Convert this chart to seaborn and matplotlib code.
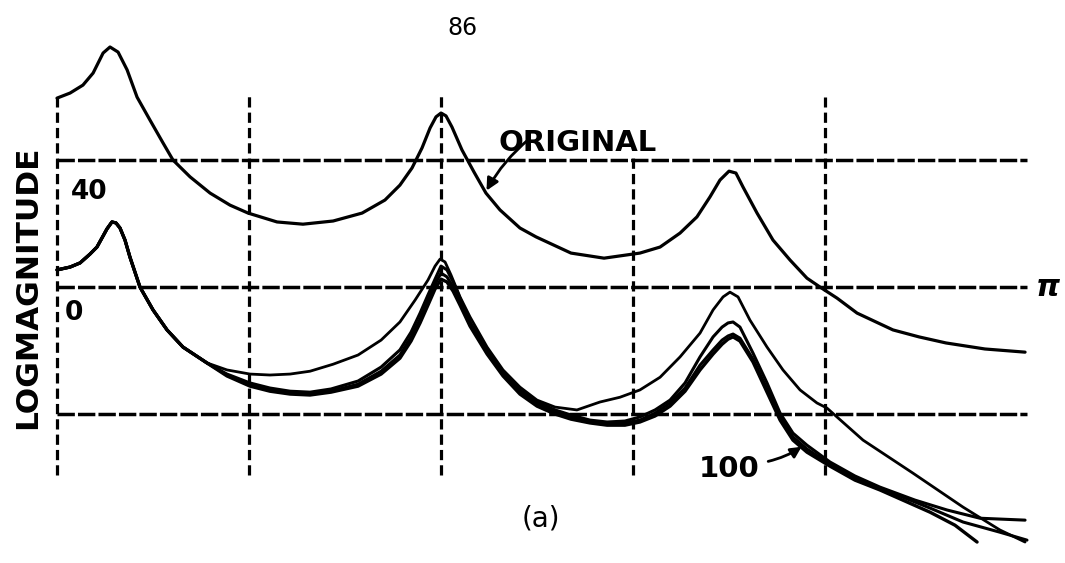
import numpy as np
import pandas as pd
import matplotlib
matplotlib.use("Agg")
import matplotlib.pyplot as plt
import seaborn as sns

# ---------------- data (frequency in kHz, log magnitude in dB) ----------------
orig_x = [0.000, 0.068, 0.135, 0.188, 0.240, 0.276, 0.318, 0.365, 0.417, 0.484,
          0.552, 0.604, 0.693, 0.797, 0.901, 0.995, 1.146, 1.281, 1.438, 1.589,
          1.708, 1.786, 1.849, 1.901, 1.943, 1.974, 2.000, 2.026, 2.057, 2.109,
          2.172, 2.234, 2.307, 2.411, 2.495, 2.677, 2.849, 3.036, 3.141, 3.245,
          3.333, 3.401, 3.453, 3.500, 3.536, 3.573, 3.646, 3.729, 3.818, 3.906,
          3.974, 4.063, 4.167, 4.354, 4.490, 4.630, 4.833, 5.042]
orig_y = [59.5, 61.1, 63.6, 67.4, 73.7, 75.6, 74.0, 68.4, 59.8, 52.6,
          45.4, 40.0, 34.7, 29.6, 25.8, 23.3, 20.5, 19.8, 20.8, 23.3,
          27.4, 32.1, 37.5, 43.8, 50.1, 53.6, 54.8, 53.9, 50.4, 43.2,
          36.2, 29.6, 24.3, 18.6, 15.8, 10.7, 9.1, 10.7, 12.6, 17.0,
          22.1, 28.4, 33.7, 36.5, 35.9, 31.5, 23.3, 14.8, 8.5, 2.8,
          0.0, -3.5, -8.2, -13.5, -15.7, -17.6, -19.5, -20.5]

# shared start of the re-synthesised spectra
low_start_x = [0.000, 0.068, 0.120, 0.172, 0.208, 0.240, 0.260, 0.286, 0.307,
               0.328, 0.354, 0.380, 0.432, 0.500, 0.573, 0.656, 0.781]
low_start_y = [5.4, 6.3, 7.6, 10.4, 12.6, 16.1, 18.3, 20.5, 20.2,
               18.6, 14.8, 9.4, 0.0, -7.2, -13.5, -18.9, -23.9]

a_x = [0.885, 1.005, 1.109, 1.214, 1.318, 1.438, 1.568, 1.688, 1.786, 1.865,
       1.932, 1.969, 1.995, 2.021, 2.052, 2.099, 2.151, 2.240, 2.323, 2.411,
       2.500, 2.594, 2.708, 2.828, 2.932, 3.036, 3.141, 3.245, 3.349, 3.417,
       3.469, 3.505, 3.547, 3.609, 3.698, 3.781, 3.870, 3.958, 4.010, 4.198,
       4.458, 4.719, 4.911, 5.042]
a_y = [-26.1, -27.4, -27.7, -27.4, -26.5, -24.3, -21.4, -16.7, -11.0, -4.1,
       2.2, 6.6, 8.8, 7.9, 3.8, -3.1, -9.4, -18.9, -26.1, -31.5,
       -35.6, -37.8, -38.7, -36.2, -34.7, -32.4, -28.4, -22.0, -14.5, -7.2,
       -3.1, -1.6, -3.1, -10.4, -18.9, -26.1, -32.4, -36.5, -38.1, -48.2,
       -58.6, -69.3, -76.5, -80.3]

bcd_x = [0.885, 1.005, 1.109, 1.214, 1.318, 1.427, 1.568, 1.688, 1.786, 1.844,
         1.891, 1.932, 1.969, 2.000, 2.031, 2.063, 2.099, 2.151, 2.240, 2.323,
         2.411, 2.500, 2.594, 2.677, 2.776, 2.865, 2.958, 3.036, 3.115, 3.193,
         3.271, 3.349, 3.417, 3.464, 3.495, 3.521, 3.557, 3.625, 3.698, 3.766,
         3.833, 3.906, 4.026, 4.156, 4.286]
b_y = [-27.4, -30.2, -31.8, -32.8, -33.1, -32.1, -29.6, -25.2, -19.8, -14.2,
       -8.2, -2.5, 2.5, 6.6, 5.4, 1.6, -3.5, -11.0, -19.8, -26.8,
       -32.4, -36.2, -38.7, -40.3, -41.9, -42.5, -42.2, -40.9, -38.7, -35.6,
       -30.2, -22.0, -15.7, -12.6, -11.3, -11.0, -12.6, -20.8, -30.2, -39.7,
       -46.0, -49.8, -55.1, -59.5, -63.0]
c_y = [-27.7, -30.9, -32.4, -33.4, -33.7, -32.8, -30.6, -26.5, -21.4, -15.7,
       -10.1, -4.1, 0.9, 4.4, 3.2, 0.0, -4.7, -11.7, -20.5, -27.4,
       -33.1, -36.9, -39.4, -40.9, -42.2, -43.2, -42.8, -41.9, -39.7, -36.5,
       -31.8, -24.6, -19.8, -16.7, -15.4, -14.8, -16.1, -22.7, -32.1, -40.6,
       -47.2, -51.0, -55.8, -60.2, -63.3]
d_y = [-28.0, -31.2, -32.8, -33.7, -34.0, -33.1, -31.2, -27.4, -22.4, -17.0,
       -11.3, -5.7, -0.6, 2.5, 1.6, -1.3, -5.7, -12.3, -21.1, -28.0,
       -33.7, -37.5, -40.0, -41.6, -42.8, -43.5, -43.5, -42.5, -40.6, -37.5,
       -32.8, -26.1, -21.1, -18.0, -16.4, -15.7, -17.0, -23.6, -33.1, -41.9,
       -48.2, -52.0, -56.4, -60.8, -63.9]

b_end_x = [4.469, 4.635, 4.807, 5.042]
b_end_y = [-67.1, -70.2, -72.8, -73.4]
c_end_x = [4.547, 4.719, 4.911, 5.052]
c_end_y = [-69.6, -74.0, -77.2, -79.7]
d_end_x = [4.547, 4.677, 4.792]
d_end_y = [-70.9, -75.0, -80.3]

grid_freqs = [0, 1, 2, 3, 4]
grid_top = [59.8, 60.5, 60.5, 40.9, 59.8]
grid_bottom = -59.2
grid_levels = [40, 0, -40]

# ---------------- figure ----------------
sns.set_theme(style="white")
plt.rcParams['font.family'] = ['DejaVu Sans']
plt.rcParams['text.color'] = 'black'

fig = plt.figure(figsize=(10.65, 5.63), dpi=100)
ax = fig.add_axes([0, 0, 1, 1])
ax.set_axis_off()
ax.set_xlim(-0.297, 5.25)
ax.set_ylim(-86.9, 90.4)

lw = 2.3
for gx, gt in zip(grid_freqs, grid_top):
    ax.plot([gx, gx], [grid_bottom, gt], color="black", lw=lw,
            dashes=(3.2, 1.6), solid_capstyle="butt")
for gy in grid_levels:
    ax.plot([0, 5.05], [gy, gy], color="black", lw=2.5, dashes=(5.0, 0.9))

def draw(xs, ys, width=lw):
    df = pd.DataFrame({"f": xs, "db": ys})
    sns.lineplot(data=df, x="f", y="db", ax=ax, sort=False, estimator=None,
                 color="black", lw=width, solid_joinstyle="round",
                 solid_capstyle="round")

draw(orig_x, orig_y)
draw(low_start_x + a_x, low_start_y + a_y, 2.0)
draw(low_start_x + bcd_x + b_end_x, low_start_y + b_y + b_end_y, 2.2)
draw(low_start_x + bcd_x + c_end_x, low_start_y + c_y + c_end_y, 2.2)
draw(low_start_x + bcd_x + d_end_x, low_start_y + d_y + d_end_y, 2.4)
ax.set_xlabel("")
ax.set_ylabel("")
if ax.get_legend():
    ax.get_legend().remove()

# ---------------- text ----------------
ax.text(2.11, 81.6, "86", fontsize=17, color="black", ha="center", va="center")
ax.text(2.30, 45.4, "ORIGINAL", fontsize=21, fontweight="bold", color="black",
        ha="left", va="center")
ax.annotate("", xy=(2.23, 29.6), xytext=(2.47, 47.2),
            arrowprops=dict(arrowstyle="-|>", color="black", lw=2,
                            mutation_scale=18, connectionstyle="arc3,rad=0.1"))
ax.text(-0.155, 0.0, "LOGMAGNITUDE", fontsize=22.5, fontweight="bold",
        color="black", rotation=90, ha="center", va="center")
ax.text(0.17, 30.0, "40", fontsize=19, fontweight="bold", color="black",
        ha="center", va="center")
ax.text(0.09, -8.2, "0", fontsize=19, fontweight="bold", color="black",
        ha="center", va="center")
ax.text(5.16, 0.0, "π", fontsize=22, fontweight="bold", style="italic",
        color="black", ha="center", va="center")
ax.text(3.50, -57.3, "100", fontsize=21, fontweight="bold", color="black",
        ha="center", va="center")
ax.annotate("", xy=(3.89, -49.8), xytext=(3.69, -55.1),
            arrowprops=dict(arrowstyle="-|>", color="black", lw=2,
                            mutation_scale=16, connectionstyle="arc3,rad=0.1"))
ax.text(2.52, -72.8, "(a)", fontsize=20, color="black", ha="center", va="center")

fig.savefig("out.png", dpi=100)
